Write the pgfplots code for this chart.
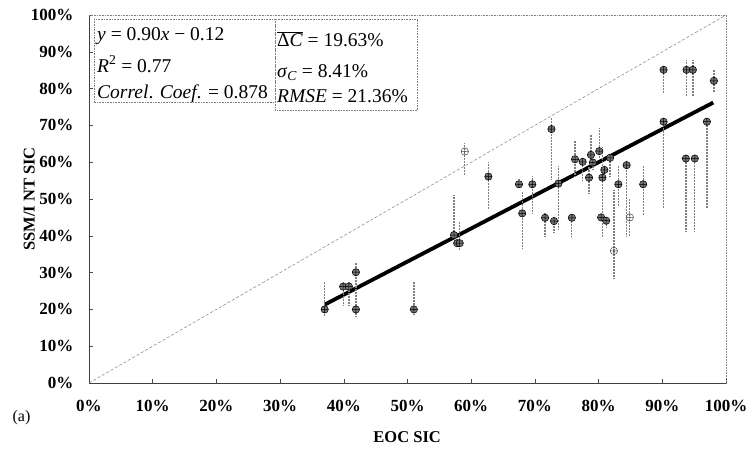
\documentclass[border=0pt]{standalone}
\usepackage{fontspec}
\setmainfont{Liberation Serif}
\usepackage{pgfplots}
\pgfplotsset{compat=1.18}
\usepackage{pgfplotstable}

\pgfplotstableread{
x y ep em
37.0 20.0 7.5 2.0
39.9 26.2 1.3 5.0
40.8 26.2 1.3 5.0
41.9 30.1 2.7 11.9
41.9 20.0 0 0
51.0 20.0 7.5 1.5
57.3 40.2 10.9 1.0
57.8 38.0 0 1.0
58.2 38.0 5.8 2.0
62.7 56.1 4.0 8.6
67.5 54.0 1.6 0
68.0 46.1 6.0 9.5
69.6 54.0 2.3 8.0
71.6 44.9 1.3 5.1
72.6 69.0 2.9 13.8
73.0 44.0 0.5 2.9
73.7 54.2 4.7 12.6
75.8 44.9 0.9 5.1
76.3 60.8 5.2 4.7
77.5 60.1 1.0 5.0
78.8 62.0 5.4 3.0
79.1 59.9 1.0 2.0
80.1 63.0 6.2 2.0
78.5 55.8 3.0 4.3
80.9 57.9 1.0 1.0
80.6 55.8 8.4 16.0
81.8 61.2 1.0 5.0
80.4 45.0 1.0 1.0
81.2 44.1 1.0 2.0
83.1 54.0 5.2 6.1
84.4 59.2 1.0 19.4
87.0 54.0 5.2 8.3
90.2 85.1 0 6.4
90.2 71.0 0 23.5
93.8 85.1 2.7 7.2
94.8 85.1 2.7 7.2
93.7 61.0 0 19.9
95.1 61.0 0 19.9
97.0 71.0 0 23.5
98.1 82.1 3.0 3.0
}\filled

\pgfplotstableread{
x y ep em
59.0 62.9 2.4 6.4
82.4 35.9 16.5 7.5
84.9 45.0 5.0 5.0
}\opened

\begin{document}
\begin{tikzpicture}
\useasboundingbox (-89pt,-69pt) rectangle (658pt,383pt);
\begin{axis}[
  scale only axis,
  width=637pt, height=368pt,
  xmin=0, xmax=100, ymin=0, ymax=100,
  axis x line*=bottom, axis y line*=left,
  axis line style={black!75, line width=0.6pt},
  xtick={0,10,...,100}, ytick={0,10,...,100},
  xticklabels={0\%,10\%,20\%,30\%,40\%,50\%,60\%,70\%,80\%,90\%,100\%},
  yticklabels={0\%,10\%,20\%,30\%,40\%,50\%,60\%,70\%,80\%,90\%,100\%},
  tick align=inside,
  major tick length=4pt,
  tick style={black!70, line width=0.5pt},
  xticklabel style={font=\bfseries\fontsize{17}{17}\selectfont, yshift=-14pt},
  yticklabel style={font=\bfseries\fontsize{17}{17}\selectfont, xshift=-12pt},
  xlabel={EOC SIC},
  ylabel={SSM/I NT SIC},
  xlabel style={font=\bfseries\fontsize{16.5}{16.5}\selectfont, at={(axis description cs:0.4995,-0.147)}, anchor=center},
  ylabel style={font=\bfseries\fontsize{16.5}{16.5}\selectfont, at={(axis description cs:-0.094,0.5)}, anchor=center},
  clip=false,
]
% frame top/right dotted
\draw[gray, densely dotted, line width=0.6pt] (rel axis cs:0,1) -- (rel axis cs:1,1) -- (rel axis cs:1,0);
% 1:1 line
\addplot[gray, line width=0.5pt, dash pattern=on 3pt off 2pt] coordinates {(0,0) (100,100)};
% regression line
\addplot[black, line width=3.8pt] coordinates {(37,21.3) (98,76.2)};
% filled points
\addplot[only marks, mark=oplus*, mark size=3.7pt, mark options={fill=black!55, draw=black, line width=0.5pt},
  error bars/.cd, y dir=both, y explicit, error mark=none,
  error bar style={black!50, line width=1.3pt, dash pattern=on 0.6pt off 0.9pt}]
  table[x=x, y=y, y error plus=ep, y error minus=em] {\filled};
% open points
\addplot[only marks, mark=oplus, mark size=3.7pt, mark options={draw=black!70, line width=0.5pt},
  error bars/.cd, y dir=both, y explicit, error mark=none,
  error bar style={black!50, line width=1.3pt, dash pattern=on 0.6pt off 0.9pt}]
  table[x=x, y=y, y error plus=ep, y error minus=em] {\opened};
% statistics boxes
\draw[gray, densely dotted, line width=0.6pt] (rel axis cs:0.008,0.989) rectangle (rel axis cs:0.292,0.762);
\draw[gray, densely dotted, line width=0.6pt] (rel axis cs:0.292,0.989) rectangle (rel axis cs:0.516,0.742);
\begin{scope}[every node/.style={font=\fontsize{19.5}{19.5}\selectfont, anchor=base west, inner sep=0pt}]
\node at (rel axis cs:0.0126,0.931) {\textit{y} = 0.90\textit{x} − 0.12};
\node at (rel axis cs:0.0126,0.845) {\textit{R}\textsuperscript{2} = 0.77};
\node at (rel axis cs:0.0126,0.774) {\textit{Correl}. \textit{Coef}. = 0.878};
\node at (rel axis cs:0.295,0.914) {$\overline{\hbox{Δ\textit{C}}}$ = 19.63\%};
\node at (rel axis cs:0.295,0.830) {\textit{σ}\textsubscript{\textit{C}} = 8.41\%};
\node at (rel axis cs:0.295,0.762) {\textit{RMSE} = 21.36\%};
\end{scope}
\node[font=\fontsize{16}{16}\selectfont, anchor=center] at (axis description cs:-0.106,-0.094) {(a)};
\end{axis}
\end{tikzpicture}
\end{document}
